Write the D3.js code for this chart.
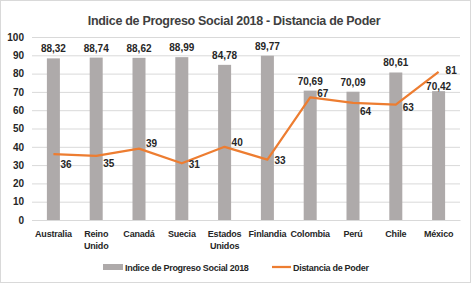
<!DOCTYPE html>
<html>
<head>
<meta charset="utf-8">
<script src="https://cdn.jsdelivr.net/npm/d3@7"></script>
<style>
  html, body { margin: 0; padding: 0; background: #fff; }
  svg text { font-family: "Liberation Sans", Arial, sans-serif; font-weight: bold; fill: #262626; }
</style>
</head>
<body>
<div id="chart"></div>
<script>
// Data
const categories = ['Australia', 'Reino Unido', 'Canadá', 'Suecia', 'Estados Unidos',
  'Finlandia', 'Colombia', 'Perú', 'Chile', 'México'];
const progresoSocial = [88.32, 88.74, 88.62, 88.99, 84.78, 89.77, 70.69, 70.09, 80.61, 70.42];
const distanciaPoder = [36, 35, 39, 31, 40, 33, 67, 64, 63, 81];
const yTicks = [0, 10, 20, 30, 40, 50, 60, 70, 80, 90, 100];

// label nudges (Excel moved some labels by hand)
const lineLabelDy = [10, 7, -6, 1, -5, 0, -4, 8, 2, -2];
const barLabelDy = [0, 0, 0, 0, 0, 0, 0, 0, 0, 5];

const W = 471, H = 283;
const fmt = v => v.toFixed(2).replace('.', ',');

const svg = d3.select('#chart').append('svg')
  .attr('width', W).attr('height', H);

// chart border
svg.append('rect')
  .attr('x', 0.5).attr('y', 0.5)
  .attr('width', W - 1).attr('height', H - 1)
  .attr('fill', '#fff').attr('stroke', '#d9d9d9');

const x = d3.scaleBand().domain(categories).range([32, 460]);
const y = d3.scaleLinear().domain([0, 100]).range([220, 37]);

// Title
svg.append('text')
  .attr('x', 234).attr('y', 25)
  .attr('text-anchor', 'middle')
  .style('font-size', '12.5px')
  .style('letter-spacing', '-0.3px')
  .style('fill', '#404040')
  .text('Indice de Progreso Social 2018 - Distancia de Poder');

// Grid
svg.append('g')
  .attr('transform', 'translate(32,0)')
  .call(d3.axisLeft(y).tickValues(yTicks).tickSize(0).tickPadding(8))
  .call(g => g.select('.domain').remove())
  .call(g => g.selectAll('.tick line').clone()
    .attr('x2', 428)
    .attr('stroke', '#d9d9d9'))
  .call(g => g.selectAll('.tick text')
    .style('font-size', '10px')
    .style('font-family', '"Liberation Sans", Arial, sans-serif')
    .style('fill', '#262626'));

// Category axis
const xAxis = svg.append('g')
  .attr('transform', 'translate(0,220)')
  .call(d3.axisBottom(x).tickSize(0).tickPadding(10).tickFormat(''))
  .call(g => g.select('.domain').attr('stroke', '#d9d9d9'));

xAxis.selectAll('.tick').each(function (d) {
  const t = d3.select(this).append('text')
    .attr('text-anchor', 'middle')
    .style('font-size', '9px')
    .style('letter-spacing', '-0.2px');
  const words = d.split(' ');
  words.forEach((w, i) => {
    t.append('tspan').attr('x', 0).attr('y', 17 + i * 12).text(w);
  });
});

// Bars
const bw = 13;
svg.selectAll('.bar')
  .data(categories)
  .enter()
  .append('rect')
  .attr('class', 'bar')
  .attr('x', d => x(d) + x.bandwidth() / 2 - bw / 2)
  .attr('y', (d, i) => y(progresoSocial[i]))
  .attr('width', bw)
  .attr('height', (d, i) => y(0) - y(progresoSocial[i]))
  .attr('fill', '#aeaaaa');

svg.selectAll('.bar-label')
  .data(categories)
  .enter()
  .append('text')
  .attr('class', 'bar-label')
  .attr('text-anchor', 'middle')
  .attr('x', d => x(d) + x.bandwidth() / 2)
  .attr('y', (d, i) => y(progresoSocial[i]) - 6 + barLabelDy[i])
  .style('font-size', '10px')
  .text((d, i) => fmt(progresoSocial[i]));

// Line
const line = d3.line()
  .x((d, i) => x(categories[i]) + x.bandwidth() / 2)
  .y(d => y(d));

svg.append('path')
  .datum(distanciaPoder)
  .attr('d', line)
  .attr('fill', 'none')
  .attr('stroke', '#ed7d31')
  .attr('stroke-width', 2.25)
  .attr('stroke-linejoin', 'round');

svg.selectAll('.line-label')
  .data(distanciaPoder)
  .enter()
  .append('text')
  .attr('class', 'line-label')
  .attr('x', (d, i) => x(categories[i]) + x.bandwidth() / 2 + 7)
  .attr('y', (d, i) => y(d) + 4 + lineLabelDy[i])
  .style('font-size', '10px')
  .text(d => d);

// Legend
const lg = svg.append('g').attr('transform', 'translate(0,267)');
lg.append('rect')
  .attr('x', 103).attr('y', -3)
  .attr('width', 20).attr('height', 6)
  .attr('fill', '#aeaaaa');
lg.append('text')
  .attr('x', 125).attr('y', 3.5)
  .style('font-size', '9px')
  .style('letter-spacing', '-0.3px')
  .text('Indice de Progreso Social 2018');
lg.append('line')
  .attr('x1', 272).attr('x2', 291)
  .attr('y1', 0).attr('y2', 0)
  .attr('stroke', '#ed7d31').attr('stroke-width', 2.25);
lg.append('text')
  .attr('x', 293).attr('y', 3.5)
  .style('font-size', '9px')
  .style('letter-spacing', '-0.3px')
  .text('Distancia de Poder');
</script>
</body>
</html>
